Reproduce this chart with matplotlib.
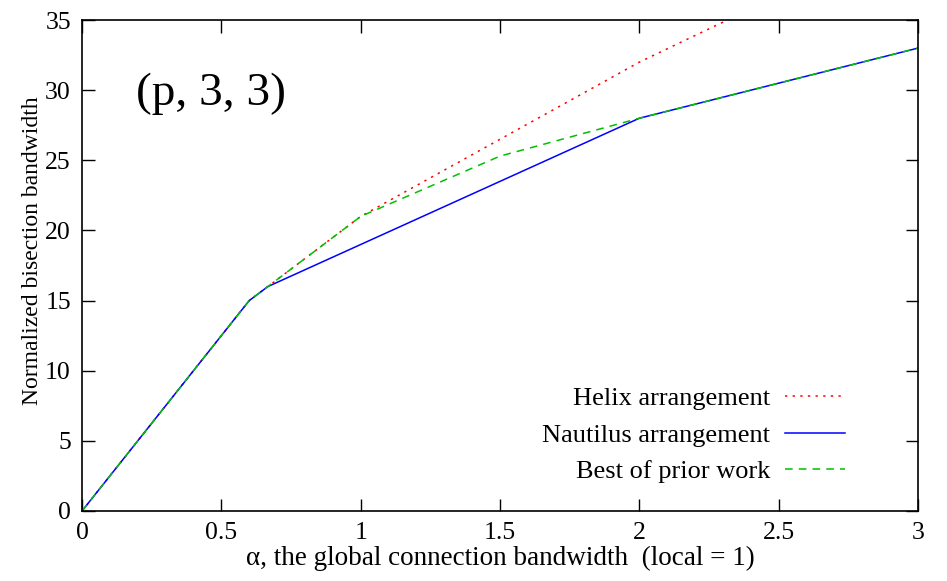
import numpy as np
import matplotlib.pyplot as plt

plt.rcParams['font.family'] = ['Liberation Serif', 'DejaVu Serif']

# alpha (global bandwidth) vs normalized bisection bandwidth
helix_x = [0, 0.6, 0.667, 1, 1.5, 2, 3]
helix_y = [0, 15, 16, 21, 26.5, 32, 41.5]

nautilus_x = [0, 0.6, 0.667, 2, 3]
nautilus_y = [0, 15, 16, 28, 33]

prior_x = [0, 0.6, 0.667, 1, 1.5, 2, 3]
prior_y = [0, 15, 16, 21, 25.3, 28, 33]

xticks = [0, 0.5, 1, 1.5, 2, 2.5, 3]
xticklabels = ['0', '0.5', '1', '1.5', '2', '2.5', '3']
yticks = [0, 5, 10, 15, 20, 25, 30, 35]

fig = plt.figure(figsize=(9.47, 5.81), dpi=100)
ax = fig.add_axes([0.0866, 0.1205, 0.8828, 0.845])

ax.plot(helix_x, helix_y, color='#ff0000', lw=1.1, dashes=(1.5, 3.5),
        label='Helix arrangement')
ax.plot(nautilus_x, nautilus_y, color='#0000ff', lw=1.1,
        label='Nautilus arrangement')
ax.plot(prior_x, prior_y, color='#00c000', lw=1.1, dashes=(5, 4),
        label='Best of prior work')

ax.set_xlim(0, 3)
ax.set_ylim(0, 35)
ax.set_xticks(xticks)
ax.set_xticklabels(xticklabels)
ax.set_yticks(yticks)
ax.tick_params(direction='in', length=9, width=1, top=True, right=True,
               labelsize=18.5, pad=8)
for s in ax.spines.values():
    s.set_linewidth(1.2)

ax.set_xlabel('\u03b1, the global connection bandwidth  (local = 1)',
              fontsize=19.5, labelpad=1)
ax.set_ylabel('Normalized bisection bandwidth', fontsize=17)
ax.yaxis.set_label_coords(-0.047, 0.53)

ax.text(0.064, 0.85, '(p, 3, 3)', transform=ax.transAxes, fontsize=34,
        va='center', ha='left')

leg = ax.legend(loc='lower right', bbox_to_anchor=(0.913, 0.056),
                frameon=False, markerfirst=False, fontsize=19,
                handlelength=2.3, handletextpad=0.55, labelspacing=0.5,
                borderaxespad=0, borderpad=0)
for col in leg._legend_box._children[1]._children:
    col.align = 'right'

fig.savefig('out.png', dpi=100)
